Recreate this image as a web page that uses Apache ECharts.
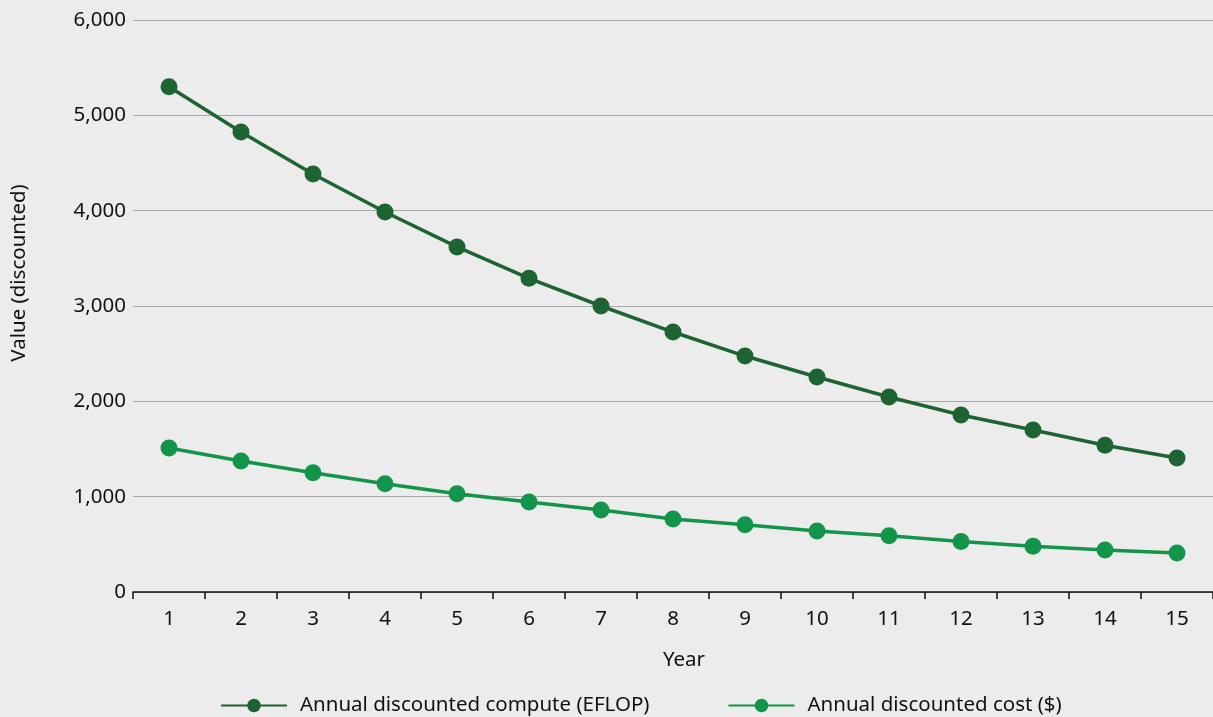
<!DOCTYPE html>
<html>
<head>
<meta charset="utf-8">
<script src="https://cdn.jsdelivr.net/npm/echarts@6/dist/echarts.min.js"></script>
<style>
html,body{margin:0;padding:0;background:#ececec;}
#c{width:1213px;height:717px;}
</style>
</head>
<body>
<div id="c"></div>
<script>
const years = ['1','2','3','4','5','6','7','8','9','10','11','12','13','14','15'];
const computeName = 'Annual discounted compute (EFLOP)';
const costName = 'Annual discounted cost ($)';
const computeValues = [5300, 4825, 4385, 3986, 3620, 3290, 3000, 2727, 2475, 2255, 2045, 1857, 1700, 1540, 1405];
const costValues = [1510, 1375, 1250, 1135, 1030, 945, 860, 765, 705, 640, 590, 530, 480, 440, 410];
const yTicks = {min: 0, max: 6000, interval: 1000};

const FONT = '"Noto Sans", "Open Sans", sans-serif';
const chart = echarts.init(document.getElementById('c'), null, {renderer: 'canvas'});
chart.setOption({
  backgroundColor: '#ececec',
  animation: false,
  textStyle: {fontFamily: FONT},
  grid: {left: 133, right: 0, top: 20, bottom: 125, containLabel: false},
  legend: {
    top: 690,
    left: 215,
    itemWidth: 66,
    itemHeight: 17,
    itemGap: 78,
    textStyle: {fontSize: 20.5, color: '#111', fontFamily: FONT, padding: [0,0,0,8]},
    data: [computeName, costName]
  },
  xAxis: {
    type: 'category',
    data: years,
    boundaryGap: true,
    axisLine: {lineStyle: {color: '#111', width: 1.5}},
    axisTick: {show: true, length: 7, lineStyle: {color: '#111', width: 1.5}},
    axisLabel: {fontSize: 20.5, color: '#111', margin: 17, fontFamily: FONT},
    splitLine: {show: false}
  },
  yAxis: {
    type: 'value',
    min: yTicks.min, max: yTicks.max, interval: yTicks.interval,
    axisLine: {show: false},
    axisTick: {show: false},
    axisLabel: {fontSize: 20.5, color: '#111', margin: 7, fontFamily: FONT,
      formatter: v => v.toLocaleString('en-US')},
    splitLine: {lineStyle: {color: '#a8a8a8', width: 1.2}}
  },
  graphic: [
    {type: 'text', x: 19, y: 273, rotation: Math.PI/2,
      style: {text: 'Value (discounted)', fontSize: 20.5, fill: '#111', fontFamily: FONT,
        textAlign: 'center', textVerticalAlign: 'middle'}},
    {type: 'text', x: 684, y: 660,
      style: {text: 'Year', fontSize: 20.5, fill: '#111', fontFamily: FONT,
        textAlign: 'center', textVerticalAlign: 'middle'}}
  ],
  series: [
    {
      name: computeName, type: 'line', data: computeValues,
      symbol: 'circle', symbolSize: 17,
      itemStyle: {color: '#1e6332'},
      lineStyle: {color: '#1e6332', width: 3.5}
    },
    {
      name: costName, type: 'line', data: costValues,
      symbol: 'circle', symbolSize: 17,
      itemStyle: {color: '#12944a'},
      lineStyle: {color: '#12944a', width: 3.5}
    }
  ]
});
</script>
</body>
</html>
